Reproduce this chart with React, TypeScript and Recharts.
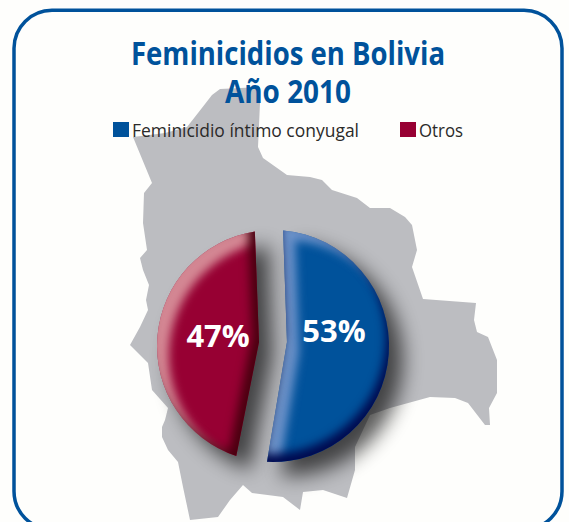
import { PieChart, Pie, Legend } from "recharts";

const categories = ["Feminicidio íntimo conyugal", "Otros"];
const values = [53, 47];
const sliceColors = ["#00529B", "#970033"];
const bevelIds = ["bevelBlue", "bevelRed"];

const chartData = categories.map((name, i) => ({
  name,
  value: values[i],
  fill: sliceColors[i],
  bevel: bevelIds[i],
}));

// silhouette behind the pie, not data
const MAP_OUTLINE =
  "220,89 212,95 198,113 187,127 165,133 133,137 152,183 144,193 143,223 147,250 140,258 143,270 149,285 146,300 148,310 140,327 130,345 148,363 152,390 168,408 165,420 162,427 162,437 168,450 178,462 183,487 190,520 218,517 230,500 243,485 252,493 283,497 300,510 303,492 323,490 347,498 355,470 355,447 370,415 390,408 430,397 455,398 468,403 485,425 490,425 489,408 497,393 497,360 488,337 477,332 474,320 476,303 423,299 412,267 417,250 412,225 405,217 390,208 370,208 357,198 332,190 322,180 310,177 287,175 263,158 258,147 260,103 260,87";

const RAD = Math.PI / 180;

function BentSlice(props: any) {
  const { cx, cy, outerRadius: r, startAngle, endAngle, midAngle, fill, bevel } = props;
  const isRight = Math.cos(midAngle * RAD) > 0;
  // the gap leans a little at the bottom
  const a1 = isRight ? startAngle : startAngle - 3.5;
  const a2 = isRight ? endAngle - 2 : endAngle;
  const x1 = cx + r * Math.cos(a1 * RAD);
  const y1 = cy - r * Math.sin(a1 * RAD);
  const x2 = cx + r * Math.cos(a2 * RAD);
  const y2 = cy - r * Math.sin(a2 * RAD);
  const ax = cx + 14 * Math.cos(midAngle * RAD);
  const ay = cy - 4;
  const large = Math.abs(a2 - a1) > 180 ? 1 : 0;
  const d = `M${ax},${ay} L${x1},${y1} A${r},${r} 0 ${large} 1 ${x2},${y2} Z`;
  return <path d={d} fill={fill} stroke="none" filter={`url(#${bevel})`} />;
}

function percentLabel(props: any) {
  const { cx, cy, midAngle, value } = props;
  const isRight = Math.cos(midAngle * RAD) > 0;
  const x = cx + (isRight ? 61 : 55) * Math.cos(midAngle * RAD);
  return (
    <text
      x={x}
      y={isRight ? cy - 4 : cy + 1}
      fill="#ffffff"
      textAnchor="middle"
      fontFamily="'Open Sans', sans-serif"
      fontWeight={700}
      fontSize={31}
    >
      {value}%
    </text>
  );
}

function LegendRow({ payload }: any) {
  const swatchX = [113, 400];
  const textLen = [227, 44];
  return (
    <svg width={569} height={150} style={{ display: "block" }}>
      {(payload ?? []).map((p: any, i: number) => (
        <g key={p.value}>
          <rect x={swatchX[i]} y={122} width={16} height={15} fill={p.color} />
          <text
            x={swatchX[i] + 19}
            y={137}
            fontFamily="'Open Sans', sans-serif"
            fontSize={19}
            fill="#2B2A29"
            textLength={textLen[i]}
            lengthAdjust="spacingAndGlyphs"
          >
            {p.value}
          </text>
        </g>
      ))}
    </svg>
  );
}

function Bevel({ id, light, dark, darkDx, darkDy }: any) {
  return (
    <filter id={id} x="-30%" y="-30%" width="170%" height="170%" colorInterpolationFilters="sRGB">
      <feGaussianBlur in="SourceAlpha" stdDeviation="5" result="soft" />
      <feOffset in="soft" dx="12" dy="10" result="softA" />
      <feFlood floodColor={light} floodOpacity="0.75" />
      <feComposite in2="softA" operator="out" />
      <feComposite in2="SourceAlpha" operator="in" result="hi" />
      <feOffset in="soft" dx={darkDx} dy={darkDy} result="softB" />
      <feFlood floodColor={dark} floodOpacity="1" />
      <feComposite in2="softB" operator="out" />
      <feComposite in2="SourceAlpha" operator="in" result="lo" />
      <feGaussianBlur in="SourceAlpha" stdDeviation="10" />
      <feOffset dx="14" dy="14" />
      <feComponentTransfer result="drop">
        <feFuncA type="linear" slope="0.65" />
      </feComponentTransfer>
      <feMerge>
        <feMergeNode in="drop" />
        <feMergeNode in="SourceGraphic" />
        <feMergeNode in="hi" />
        <feMergeNode in="lo" />
      </feMerge>
    </filter>
  );
}

export default function App() {
  return (
    <div
      style={{
        position: "absolute",
        left: 0,
        top: 0,
        width: 569,
        height: 522,
        overflow: "hidden",
        background: "#FEFEFC",
      }}
    >
      <svg width={569} height={522} style={{ position: "absolute", left: 0, top: 0 }}>
        <defs>
          <Bevel id="bevelBlue" light="#8FA6D8" dark="#000A50" darkDx={-3} darkDy={-8} />
          <Bevel id="bevelRed" light="#E8B4B4" dark="#4A0010" darkDx={-7} darkDy={-5} />
        </defs>
        <rect x={14} y={10.3} width={548} height={519} rx={38} fill="none" stroke="#00529B" strokeWidth={3.5} />
        <polygon points={MAP_OUTLINE} fill="#BCBDC1" />
        <g fontFamily="'Open Sans', sans-serif" fontWeight={700} fontSize={32} fill="#00529B">
          <text x={131} y={65} textLength={314} lengthAdjust="spacingAndGlyphs">
            Feminicidios en Bolivia
          </text>
          <text x={225} y={103} textLength={126} lengthAdjust="spacingAndGlyphs">
            Año 2010
          </text>
        </g>
      </svg>
      <div style={{ position: "absolute", left: 0, top: 0 }}>
        <PieChart width={569} height={522} margin={{ top: 0, right: 0, bottom: 0, left: 0 }}>
          <Pie
            data={chartData}
            dataKey="value"
            nameKey="name"
            cx={273}
            cy={346}
            innerRadius={0}
            outerRadius={116}
            startAngle={85}
            endAngle={-275}
            paddingAngle={14}
            stroke="none"
            shape={BentSlice}
            label={percentLabel}
            labelLine={false}
            isAnimationActive={false}
          />
          <Legend
            content={<LegendRow />}
            wrapperStyle={{ position: "absolute", left: 0, top: 0, width: 569, height: 150 }}
          />
        </PieChart>
      </div>
    </div>
  );
}
